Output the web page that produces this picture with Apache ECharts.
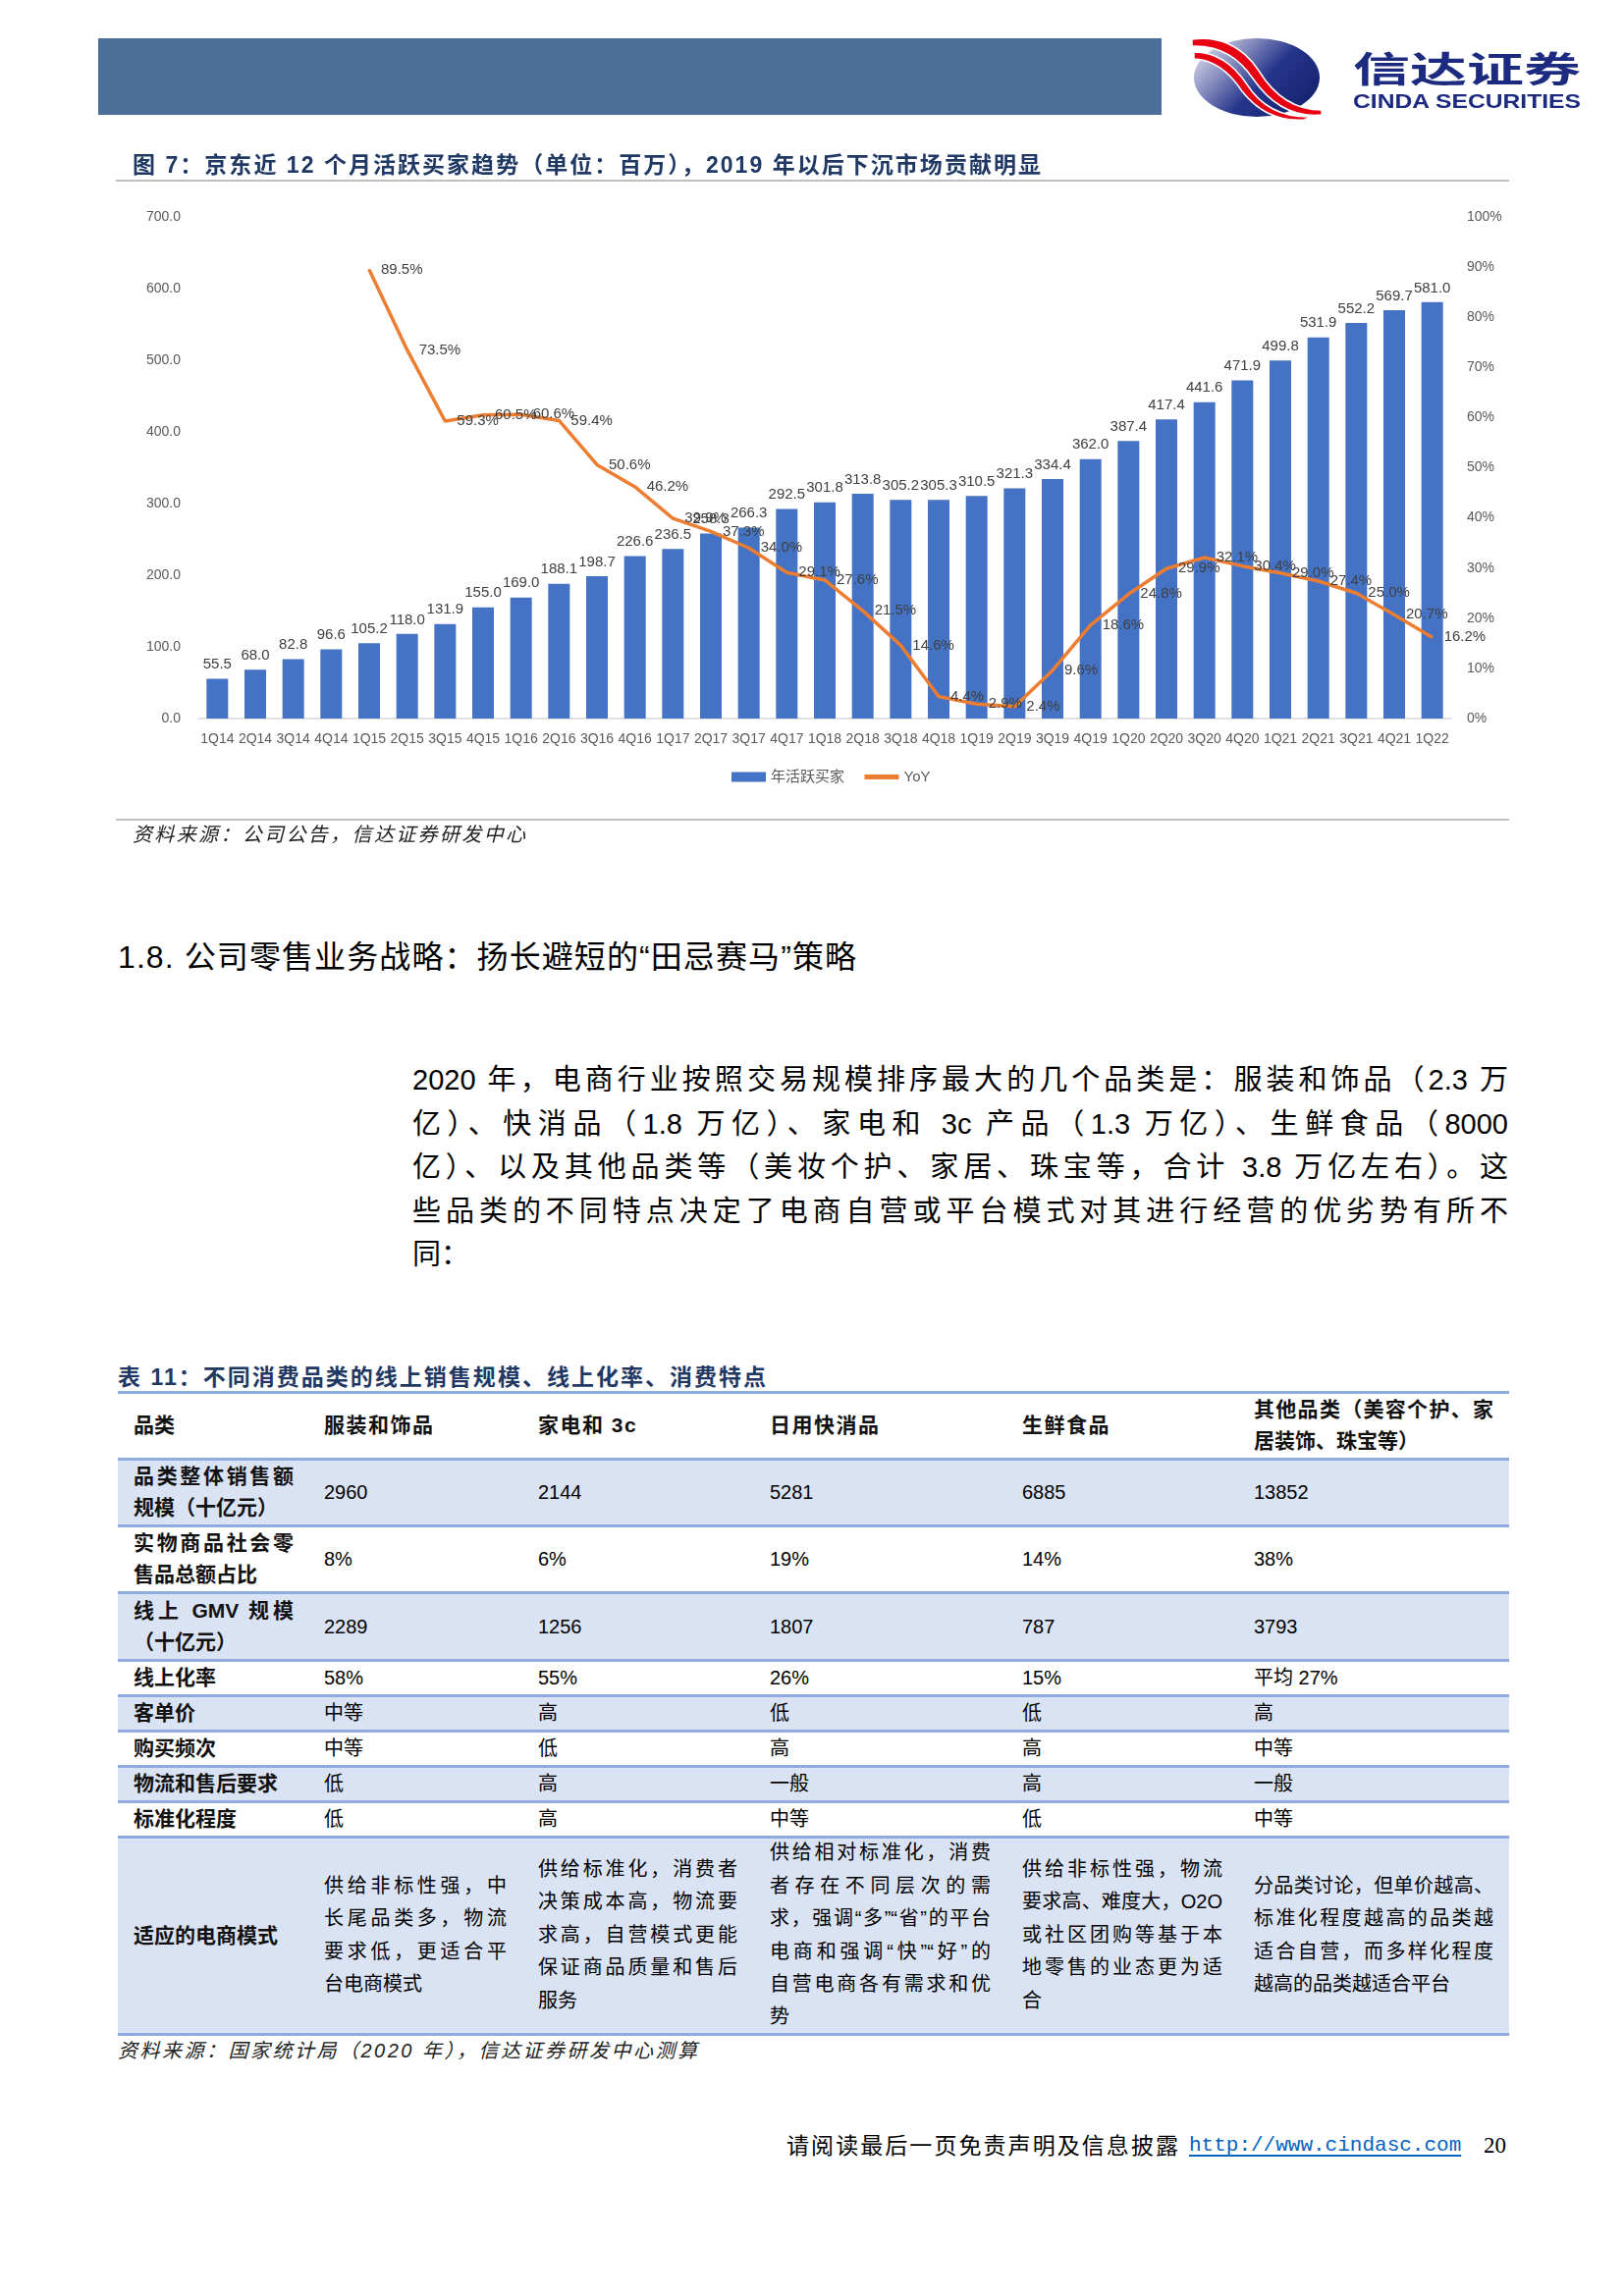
<!DOCTYPE html>
<html>
<head>
<meta charset="utf-8">
<script src="https://cdn.jsdelivr.net/npm/echarts/dist/echarts.min.js"></script>
<style>
  html,body{margin:0;padding:0;background:#fff;}
  body{width:1654px;height:2339px;position:relative;overflow:hidden;font-family:"Liberation Sans","Noto Sans CJK SC",sans-serif;color:#000;}
  .abs{position:absolute;white-space:nowrap;}
  .line{position:absolute;}
  .jl{display:block;text-align:justify;text-align-last:justify;}
  .ll{display:block;text-align:left;}
</style>
</head>
<body>
<div id="chart" style="position:absolute;left:0;top:0;width:1654px;height:840px;"></div>

<!-- header banner and logo -->
<div class="abs" style="left:100px;top:39px;width:1083px;height:78px;background:#4b6f99;"></div>
<svg class="abs" style="left:1210px;top:36px;" width="142" height="86" viewBox="0 0 142 86">
  <defs>
    <linearGradient id="eg" x1="0" y1="0.1" x2="1" y2="0.7">
      <stop offset="0" stop-color="#e4e4f0"/>
      <stop offset="0.3" stop-color="#8a90c0"/>
      <stop offset="0.6" stop-color="#26358c"/>
      <stop offset="1" stop-color="#14236f"/>
    </linearGradient>
  </defs>
  <ellipse cx="70" cy="43" rx="64" ry="40" fill="url(#eg)"/>
  <path d="M4,4 C30,0 55,10 72,36 C88,62 110,76 136,76 L136,81 C106,84 84,70 66,44 C50,20 30,10 4,11 Z" fill="#e60012" stroke="#fff" stroke-width="1.5"/>
  <path d="M6,17 C28,17 46,29 60,50 C74,72 96,84 126,83 L118,86 C90,88 70,76 55,57 C42,37 26,25 6,24 Z" fill="#e60012" stroke="#fff" stroke-width="1.5"/>
</svg>
<div class="abs" id="logoCn" style="left:1378px;top:46px;font-size:36px;line-height:44px;font-weight:700;color:#1c2a80;font-family:'Noto Sans CJK SC',sans-serif;transform-origin:0 50%;">信达证券</div>
<div class="abs" id="logoEn" style="left:1378px;top:91px;font-size:21px;line-height:24px;font-weight:700;color:#1c2a80;font-family:'Liberation Sans',sans-serif;transform-origin:0 50%;">CINDA SECURITIES</div>

<!-- figure title -->
<div class="abs fit" data-w="925" style="left:135px;top:153px;font-size:23px;line-height:30px;font-weight:700;color:#1f3864;">图 7：京东近 12 个月活跃买家趋势（单位：百万），2019 年以后下沉市场贡献明显</div>
<div class="line" style="left:118px;top:183px;width:1419px;height:2px;background:#bfbfbf;"></div>

<div class="line" style="left:118px;top:834px;width:1419px;height:2px;background:#bfbfbf;"></div>
<div class="abs fit" data-w="400" style="left:135px;top:836px;font-size:20px;line-height:28px;font-style:italic;color:#222;">资料来源：公司公告，信达证券研发中心</div>

<!-- section heading -->
<div class="abs fit" data-w="752" style="left:120px;top:955px;font-size:32px;line-height:40px;color:#000;">1.8. 公司零售业务战略：扬长避短的“田忌赛马”策略</div>

<!-- paragraph -->
<div id="para" class="abs" style="left:420px;top:1078px;width:1116px;font-size:29px;line-height:44.5px;white-space:normal;color:#000;"></div>

<!-- table title -->
<div class="abs fit" data-w="660" style="left:120px;top:1389px;font-size:23px;line-height:28px;font-weight:700;color:#1f3864;">表 11：不同消费品类的线上销售规模、线上化率、消费特点</div>

<div id="table"></div>

<div class="abs fit" data-w="590" style="left:120px;top:2075px;font-size:20px;line-height:28px;font-style:italic;color:#222;">资料来源：国家统计局（2020 年），信达证券研发中心测算</div>

<!-- footer -->
<div class="abs fit" data-w="399" style="left:801px;top:2171px;font-size:23px;line-height:30px;color:#000;">请阅读最后一页免责声明及信息披露</div>
<div class="abs" style="left:1211px;top:2171px;font-size:21px;line-height:30px;font-family:'Liberation Mono',monospace;color:#0563c1;text-decoration:underline;text-decoration-thickness:2px;text-underline-offset:4px;">http://www.cindasc.com</div>
<div class="abs" style="left:1511px;top:2171px;font-size:23px;line-height:30px;font-family:'Liberation Serif',serif;color:#000;">20</div>

<script>
// ---------------- chart data ----------------
const categories = ['1Q14','2Q14','3Q14','4Q14','1Q15','2Q15','3Q15','4Q15','1Q16','2Q16','3Q16','4Q16',
  '1Q17','2Q17','3Q17','4Q17','1Q18','2Q18','3Q18','4Q18','1Q19','2Q19','3Q19','4Q19',
  '1Q20','2Q20','3Q20','4Q20','1Q21','2Q21','3Q21','4Q21','1Q22'];
const activeBuyers = [55.5,68.0,82.8,96.6,105.2,118.0,131.9,155.0,169.0,188.1,198.7,226.6,
  236.5,258.3,266.3,292.5,301.8,313.8,305.2,305.3,310.5,321.3,334.4,362.0,
  387.4,417.4,441.6,471.9,499.8,531.9,552.2,569.7,581.0];
const yoyPct = [null,null,null,null,89.5,73.5,59.3,60.5,60.6,59.4,50.6,46.2,
  39.9,37.3,34.0,29.1,27.6,21.5,14.6,4.4,2.9,2.4,9.6,18.6,
  24.8,29.9,32.1,30.4,29.0,27.4,25.0,20.7,16.2];
const seriesNames = ['年活跃买家','YoY'];
const leftAxisTicks = {min:0, max:700, interval:100};
const rightAxisTicks = {min:0, max:100, interval:10};

// ---------------- text data ----------------
const paragraphLines = [
  '2020 年，电商行业按照交易规模排序最大的几个品类是：服装和饰品（2.3 万',
  '亿）、快消品（1.8 万亿）、家电和 3c 产品（1.3 万亿）、生鲜食品（8000',
  '亿）、以及其他品类等（美妆个护、家居、珠宝等，合计 3.8 万亿左右）。这',
  '些品类的不同特点决定了电商自营或平台模式对其进行经营的优劣势有所不',
  '同：'
];
const tableHeader = ['品类','服装和饰品','家电和 3c','日用快消品','生鲜食品','其他品类（美容个护、家\n居装饰、珠宝等）'];
const tableRows = [
  ['品类整体销售额\n规模（十亿元）','2960','2144','5281','6885','13852'],
  ['实物商品社会零\n售品总额占比','8%','6%','19%','14%','38%'],
  ['线上 GMV 规模\n（十亿元）','2289','1256','1807','787','3793'],
  ['线上化率','58%','55%','26%','15%','平均 27%'],
  ['客单价','中等','高','低','低','高'],
  ['购买频次','中等','低','高','高','中等'],
  ['物流和售后要求','低','高','一般','高','一般'],
  ['标准化程度','低','高','中等','低','中等'],
  ['适应的电商模式',
   '供给非标性强，中\n长尾品类多，物流\n要求低，更适合平\n台电商模式',
   '供给标准化，消费者\n决策成本高，物流要\n求高，自营模式更能\n保证商品质量和售后\n服务',
   '供给相对标准化，消费\n者存在不同层次的需\n求，强调“多”“省”的平台\n电商和强调“快”“好”的\n自营电商各有需求和优\n势',
   '供给非标性强，物流\n要求高、难度大，O2O\n或社区团购等基于本\n地零售的业态更为适\n合',
   '分品类讨论，但单价越高、\n标准化程度越高的品类越\n适合自营，而多样化程度\n越高的品类越适合平台']
];

// ---------------- chart ----------------
const chart = echarts.init(document.getElementById('chart'), null, {renderer:'canvas'});
const FONT = '"Liberation Sans","Noto Sans CJK SC",sans-serif';
chart.setOption({
  animation:false,
  textStyle:{fontFamily:FONT},
  grid:{left:202, right:176, top:221, bottom:108, containLabel:false},
  legend:{
    left:740, top:779, itemWidth:35, itemHeight:10, itemGap:18,
    textStyle:{fontSize:15, color:'#595959', fontFamily:FONT},
    data:[{name:seriesNames[0], icon:'rect'},
          {name:seriesNames[1], itemStyle:{opacity:0}, lineStyle:{width:5}}]
  },
  xAxis:{
    type:'category', data:categories,
    axisLine:{lineStyle:{color:'#d9d9d9', width:1.5}},
    axisTick:{show:false},
    axisLabel:{color:'#595959', fontSize:14, interval:0, margin:14}
  },
  yAxis:[
    {type:'value', min:leftAxisTicks.min, max:leftAxisTicks.max, interval:leftAxisTicks.interval,
     splitLine:{show:false}, axisLine:{show:false}, axisTick:{show:false},
     axisLabel:{color:'#595959', fontSize:14, margin:18, formatter:v=>v.toFixed(1)}},
    {type:'value', min:rightAxisTicks.min, max:rightAxisTicks.max, interval:rightAxisTicks.interval,
     splitLine:{show:false}, axisLine:{show:false}, axisTick:{show:false},
     axisLabel:{color:'#595959', fontSize:14, margin:16, formatter:'{value}%'}}
  ],
  series:[
    {type:'bar', name:seriesNames[0], data:activeBuyers, barWidth:22,
     itemStyle:{color:'#4472c4'},
     label:{show:true, position:'top', distance:7, color:'#404040', fontSize:15,
            formatter:p=>p.value.toFixed(1)}},
    {type:'line', name:seriesNames[1], yAxisIndex:1, data:yoyPct,
     symbol:'circle', symbolSize:2, showSymbol:true,
     lineStyle:{color:'#ed7d31', width:3.5}, itemStyle:{color:'#ed7d31'},
     label:{show:true, position:'right', distance:11, color:'#404040', fontSize:15,
            formatter:p=>p.value==null?'':p.value.toFixed(1)+'%'}}
  ]
});

// ---------------- paragraph ----------------
const para = document.getElementById('para');
paragraphLines.forEach((t,i)=>{
  const d = document.createElement('div');
  d.className = i < paragraphLines.length-1 ? 'jl' : 'll';
  d.textContent = t;
  para.appendChild(d);
});

// ---------------- table ----------------
const tbl = document.getElementById('table');
const colText = [136, 330, 548, 784, 1041, 1277];
const colWidth = [163, 186, 203, 225, 204, 244];
const rowBounds = [1418, 1486, 1554, 1622, 1691, 1727, 1763, 1799, 1835, 1871, 2072];
const tableLeft = 120, tableRight = 1537;
function addDiv(style, html){ const d=document.createElement('div'); d.style.cssText=style; if(html!=null) d.innerHTML=html; tbl.appendChild(d); return d; }
for (let r=1; r<rowBounds.length-1; r++){
  if (r % 2 === 1){
    addDiv(`position:absolute;left:${tableLeft}px;top:${rowBounds[r]}px;width:${tableRight-tableLeft}px;height:${rowBounds[r+1]-rowBounds[r]}px;background:#dae3f3;`);
  }
}
rowBounds.forEach(y=>{
  addDiv(`position:absolute;left:${tableLeft}px;top:${y-1.5}px;width:${tableRight-tableLeft}px;height:3px;background:#8faadc;`);
});
function cellContent(text, width, justify){
  const lines = text.split('\n');
  if (lines.length === 1) return `<div style="white-space:nowrap;">${lines[0]}</div>`;
  return `<div style="width:${width}px;">` + lines.map((l,i)=>
    `<div class="${(justify && i<lines.length-1)?'jl':'ll'}" style="white-space:normal;">${l}</div>`).join('') + '</div>';
}
const allRows = [tableHeader].concat(tableRows);
allRows.forEach((row, r)=>{
  const top = rowBounds[r], h = rowBounds[r+1]-rowBounds[r];
  const lh = (r === allRows.length-1) ? 33.4 : 32;
  row.forEach((txt, c)=>{
    const bold = (r === 0 || c === 0);
    const fs = bold ? 21 : 20;
    const ls = (r === 0 && c > 0 && c < 5) ? 'letter-spacing:1.5px;' : '';
    const st = `left:${colText[c]}px;top:${top}px;height:${h}px;width:${colWidth[c]+30}px;font-size:${fs}px;line-height:${lh}px;` +
      `font-weight:${bold?700:400};color:${bold?'#111':'#000'};` + ls;
    addDiv('position:absolute;display:flex;align-items:center;' + st, cellContent(txt, colWidth[c], true));
  });
});

// ---------------- fit texts ----------------
document.querySelectorAll('.fit').forEach(el=>{
  const target = +el.dataset.w;
  el.style.letterSpacing = '0px';
  const w = el.getBoundingClientRect().width;
  const n = [...el.textContent].length;
  el.style.letterSpacing = ((target - w) / (n - 1)) + 'px';
});
function scaleTo(id, target){
  const el = document.getElementById(id);
  const w = el.getBoundingClientRect().width;
  el.style.transform = `scaleX(${target / w})`;
}
scaleTo('logoCn', 232);
scaleTo('logoEn', 232);
</script>
</body>
</html>
